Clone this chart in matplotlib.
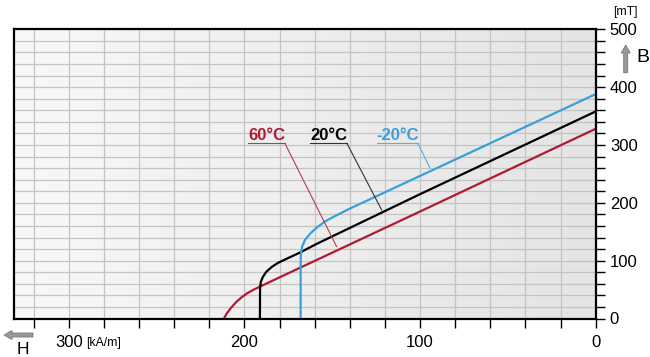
import numpy as np
import matplotlib
matplotlib.use("Agg")
import matplotlib.pyplot as plt
from matplotlib.patches import FancyArrow
from matplotlib.transforms import IdentityTransform

plt.rcParams['font.family'] = ['Liberation Sans', 'DejaVu Sans']

# Data (H in kA/m, B in mT)
labels = ["60°C", "20°C", "-20°C"]
colors = ["#b01a32", "#000000", "#3a9fdb"]
H_60 = [0, 100, 183.6, 190.2, 195.0, 198.5, 201.5, 204.5, 207.5, 210.0, 211.7]
B_60 = [328, 185, 66, 56.5, 49.5, 43.5, 37, 29, 19, 9, 0]
H_20 = [0, 100, 158.9, 168.4, 176.9, 181.0, 184.5, 187.5, 189.5, 190.7, 191.1, 191.2]
B_20 = [358, 215, 129, 114, 102, 96, 89, 81, 72, 63, 52, 0]
H_m20 = [0, 94, 140, 148.5, 154, 158.9, 162.5, 165.5, 167.2, 167.9, 168.0, 168.0]
B_m20 = [388, 255, 190, 177, 168, 157, 147, 136, 124, 110, 90, 0]
curves_H = [H_60, H_20, H_m20]
curves_B = [B_60, B_20, B_m20]
x_ticks = [300, 200, 100, 0]
y_ticks = [0, 100, 200, 300, 400, 500]

W, Hpx = 650, 357
fig = plt.figure(figsize=(6.5, 3.57), dpi=100)
l, r, t, b = 13.5, 595.7, 29.3, 318.5
ax = fig.add_axes([l / W, 1 - b / Hpx, (r - l) / W, (b - t) / Hpx])
xmin = 331.5
ax.set_xlim(xmin, 0)
ax.set_ylim(0, 500)

# background gradient
grad = np.linspace(0, 1, 256).reshape(1, -1)
ax.imshow(grad, extent=[xmin, 0, 0, 500], aspect='auto',
          cmap=matplotlib.colors.LinearSegmentedColormap.from_list('g', ['#f8f8f8', '#e4e4e4']), zorder=0)

ax.set_xticks(np.arange(0, 321, 20))
ax.set_xticklabels([str(v) if v in x_ticks else '' for v in np.arange(0, 321, 20)])
ax.set_yticks(np.arange(0, 501, 20))
ax.set_yticklabels([str(v) if v in y_ticks else '' for v in np.arange(0, 501, 20)])
ax.grid(True, color='#c4c4c4', linewidth=0.9, zorder=1)
ax.yaxis.tick_right()
ax.tick_params(axis='both', direction='out', length=6.2, width=1.0, labelsize=12, colors='black')
ax.tick_params(axis='y', pad=4)
ax.tick_params(axis='x', pad=5.5)
for s in ax.spines.values():
    s.set_linewidth(1.6)
    s.set_color('black')
    s.set_zorder(5)

for Hs, Bs, c in zip(curves_H, curves_B, colors):
    ax.plot(Hs, Bs, color=c, linewidth=1.6, zorder=3, solid_joinstyle='round')

# labels with leader lines (in data coords)
def px2data(x, y):
    return xmin - (x - l) / (r - l) * xmin, (b - y) / (b - t) * 500

label_px = [((248, 285), (336.7, 246.7)), ((310, 347), (381.7, 210)), ((377, 418), (430, 168.3))]
leader_colors = ["#b04050", "#333333", "#5aaee0"]
for lab, c, lc, ((x0, x1), (ex, ey)) in zip(labels, colors, leader_colors, label_px):
    tx, ty = px2data((x0 + x1) / 2, 135)
    ax.text(tx, ty, lab, color=c, fontsize=12, fontweight='bold', ha='center', va='center', zorder=6)
    ux0, uy = px2data(x0, 143.5)
    ux1, _ = px2data(x1, 143.5)
    ax.plot([ux0, ux1], [uy, uy], color=lc, linewidth=0.8, zorder=4)
    exd, eyd = px2data(ex, ey)
    ax.plot([ux1, exd], [uy, eyd], color=lc, linewidth=0.8, zorder=4)

# axis annotations
fig.text(625 / W, 1 - 11.5 / Hpx, "[mT]", fontsize=8.8, ha='center', va='center')
fig.text(86 / W, 1 - 343 / Hpx, "[kA/m]", fontsize=8.8, ha='left', va='center')
fig.text(642.5 / W, 1 - 58 / Hpx, "B", fontsize=14, ha='center', va='center')
fig.text(23 / W, 1 - 349 / Hpx, "H", fontsize=12.5, ha='center', va='center')

tr = IdentityTransform()
fig.add_artist(FancyArrow(625.7, Hpx - 72.7, 0, 27.7, width=4, head_width=9, head_length=8,
                          length_includes_head=True, transform=tr, facecolor='#999999',
                          edgecolor='#777777', linewidth=0.6))
fig.add_artist(FancyArrow(33, Hpx - 335, -29, 0, width=4, head_width=9, head_length=8,
                          length_includes_head=True, transform=tr, facecolor='#999999',
                          edgecolor='#777777', linewidth=0.6))

fig.savefig("out.png", dpi=100)
